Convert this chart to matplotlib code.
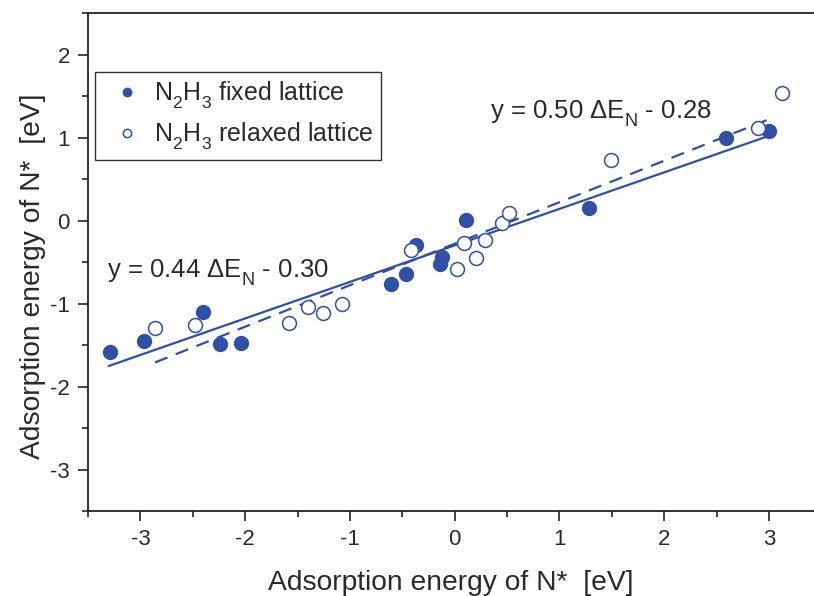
import numpy as np
import matplotlib
matplotlib.use('Agg')
from matplotlib import pyplot as plt

plt.rcParams['font.family'] = ['Liberation Sans', 'DejaVu Sans']
plt.rcParams['mathtext.fontset'] = 'custom'
plt.rcParams['mathtext.rm'] = 'Liberation Sans'
plt.rcParams['mathtext.default'] = 'regular'
plt.rcParams['axes.unicode_minus'] = False

# push subscripts a bit lower, like the original figure
try:
    from matplotlib import _mathtext
    _mathtext.FontConstantsBase.sub1 = 0.6
except Exception:
    pass

BLUE = '#2f50a6'
TXT = '#2a2a2a'

# N2H3 fixed lattice
fixed_x = [-3.29, -2.97, -2.40, -2.24, -2.04, -0.61, -0.46, -0.37, -0.14, -0.12, 0.11, 1.28, 2.59, 3.00]
fixed_y = [-1.58, -1.45, -1.10, -1.49, -1.47, -0.76, -0.65, -0.30, -0.53, -0.44, 0.01, 0.15, 0.99, 1.08]

# N2H3 relaxed lattice
relax_x = [-2.86, -2.48, -1.58, -1.40, -1.26, -1.08, -0.42, 0.02, 0.09, 0.20, 0.29, 0.45, 0.52, 1.49, 2.90, 3.12]
relax_y = [-1.30, -1.26, -1.23, -1.04, -1.12, -1.00, -0.36, -0.58, -0.27, -0.45, -0.23, -0.03, 0.09, 0.73, 1.11, 1.54]

# linear fits (slope, intercept, x range)
fit_fixed = (0.44, -0.30, [-3.30, 3.00])
fit_relax = (0.50, -0.28, [-2.86, 3.01])

fig = plt.figure(figsize=(8.14, 5.96), dpi=100)
ax = fig.add_axes([88/814, 85/596, 726/814, 498/596])

xs = np.array(fit_fixed[2])
ax.plot(xs, fit_fixed[0]*xs + fit_fixed[1], '-', color=BLUE, lw=1.6, zorder=2)
xs = np.array(fit_relax[2])
ax.plot(xs, fit_relax[0]*xs + fit_relax[1], '--', color=BLUE, lw=1.6, dashes=(6, 4), zorder=2)

ax.plot(fixed_x, fixed_y, 'o', ms=10, color=BLUE, mec=BLUE, zorder=3,
        label='N$_2$H$_3$ fixed lattice')
ax.plot(relax_x, relax_y, 'o', ms=10, mfc='white', mec=BLUE, mew=1.1, zorder=3,
        label='N$_2$H$_3$ relaxed lattice')

ax.text(-3.32, -0.687, 'y = 0.44 ΔE$_N$ - 0.30', fontsize=18.5, color=TXT, va='baseline')
ax.text(0.34, 1.229, 'y = 0.50 ΔE$_N$ - 0.28', fontsize=18.5, color=TXT, va='baseline')

ax.set_xlim(-3.5, 3.43)
ax.set_ylim(-3.5, 2.5)
ax.set_xticks([-3, -2, -1, 0, 1, 2, 3])
ax.set_xticks(np.arange(-3.5, 3.5, 0.5), minor=True)
ax.set_yticks([-3, -2, -1, 0, 1, 2])
ax.set_yticks(np.arange(-3.5, 2.6, 0.5), minor=True)
ax.tick_params(which='major', direction='out', length=7, width=1.2, labelsize=16,
               colors='#222222', labelcolor=TXT, pad=6)
ax.tick_params(which='minor', direction='out', length=4, width=1.2, colors='#222222')
ax.tick_params(top=False, right=False, which='both')
for s in ['left', 'bottom', 'top']:
    ax.spines[s].set_linewidth(1.3)
    ax.spines[s].set_color('#222222')
ax.spines['right'].set_visible(False)

ax.set_xlabel('Adsorption energy of N*  [eV]', fontsize=20.3, color=TXT, labelpad=14)
ax.set_ylabel('Adsorption energy of N*  [eV]', fontsize=20.3, color=TXT)
ax.yaxis.set_label_coords(-0.058, 0.472)

leg = ax.legend(loc='upper left', bbox_to_anchor=(0.0096, 0.8815), borderaxespad=0,
                fontsize=18, markerscale=0.6, handlelength=2.0, handletextpad=0.05,
                borderpad=0.3, labelspacing=0.4, fancybox=False, framealpha=1)
leg.get_frame().set_edgecolor('#333333')
leg.get_frame().set_linewidth(1.0)
for t in leg.get_texts():
    t.set_color(TXT)

fig.savefig('out.png', dpi=100)
